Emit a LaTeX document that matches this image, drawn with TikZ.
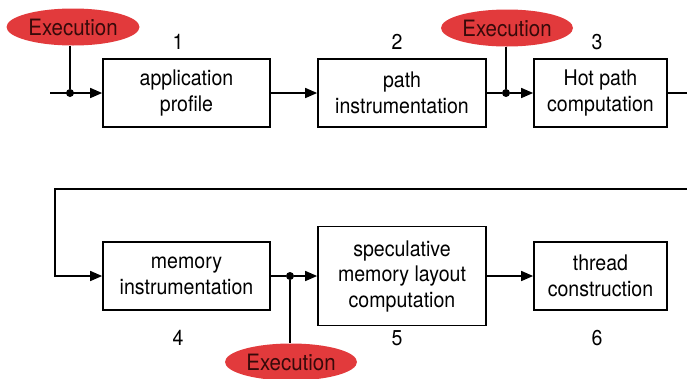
\documentclass[tikz,border=0pt]{standalone}
\usepackage{fontspec}
\setmainfont[FakeStretch=0.91]{TeX Gyre Heros}
\usetikzlibrary{shapes.geometric, arrows.meta, positioning, calc}
\definecolor{execred}{RGB}{226,58,60}
\definecolor{exectext}{RGB}{55,10,10}
\newcommand{\stagefont}{\fontsize{21.5}{25.5}\selectfont}
\newcommand{\execfont}{\fontsize{22.5}{26}\selectfont}
\tikzset{
  stage/.style={rectangle, draw=black, fill=white, align=center,
    minimum height=68pt, font=\stagefont, inner sep=0pt, line width=1.7pt},
  execnode/.style={ellipse, fill=execred, text=exectext, inner sep=0pt,
    minimum width=132pt, minimum height=37pt, font=\execfont},
  numlabel/.style={font=\stagefont, inner sep=0pt},
  junct/.style={circle, fill=black, minimum size=8pt, inner sep=0pt},
  flow/.style={-{Triangle[length=12pt,width=10pt]}, line width=1.5pt},
  line/.style={line width=1.5pt}
}

\begin{document}
\begin{tikzpicture}[x=1pt, y=-1pt]
  \useasboundingbox (0,0) rectangle (687,378);
  % first row of stages
  \node[stage, minimum width=167pt] (appprof)  at (186.5,93) {application\\profile};
  \node[stage, minimum width=168pt] (pathinst) at (402,93)   {path\\instrumentation};
  \node[stage, minimum width=133pt] (hotpath)  at (600.5,93) {Hot path\\computation};
  % second row of stages
  \node[stage, minimum width=167pt] (meminst)  at (186.5,276) {memory\\instrumentation};
  \node[stage, minimum width=168pt, minimum height=99pt] (speclayout) at (402,276)
    {speculative\\memory layout\\computation};
  \node[stage, minimum width=133pt] (threadcon) at (600.5,276) {thread\\construction};
  % stage numbers
  \node[numlabel] (n1) at (178,42)  {1};
  \node[numlabel] (n2) at (397,42)  {2};
  \node[numlabel] (n3) at (597,42)  {3};
  \node[numlabel] (n4) at (178,338) {4};
  \node[numlabel] (n5) at (397,338) {5};
  \node[numlabel] (n6) at (597,338) {6};
  % execution points
  \node[execnode, minimum width=133pt] (execA) at (73,27)  {Execution};
  \node[execnode] (execB) at (507,28) {Execution};
  \node[execnode] (execC) at (291,362) {Execution};
  \node[junct] (jA) at (70,93)  {};
  \node[junct] (jB) at (506,93) {};
  \node[junct] (jC) at (290,276) {};
  % connectors
  \coordinate (inA)   at (50,93);
  \coordinate (outR)  at (687,93);
  \coordinate (loopR) at (687,189);
  \coordinate (loopL) at (55,189);
  \draw[flow] (inA) -- (appprof);
  \draw[line] (jA |- execA.south) -- (jA);
  \draw[flow] (appprof) -- (pathinst);
  \draw[line] (pathinst) -- (jB);
  \draw[line] (jB |- execB.south) -- (jB);
  \draw[flow] (jB) -- (hotpath);
  \draw[line] (hotpath) -- (outR);
  \draw[flow] (loopR) -- (loopL) |- (meminst);
  \draw[line] (meminst) -- (jC);
  \draw[line] (jC) -- (jC |- execC.north);
  \draw[flow] (jC) -- (speclayout);
  \draw[flow] (speclayout) -- (threadcon);
\end{tikzpicture}
\end{document}
